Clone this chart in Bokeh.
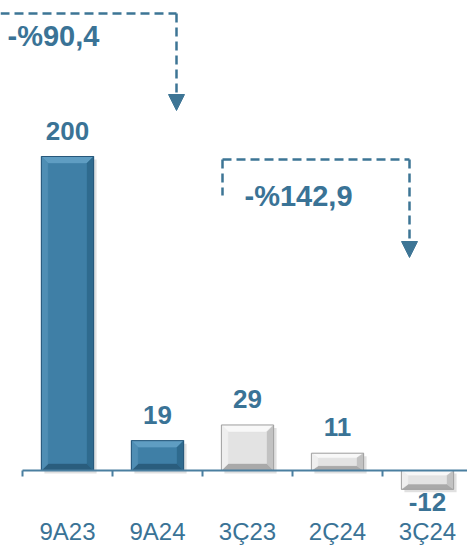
import numpy as np
from bokeh.plotting import figure
from bokeh.models import ColumnDataSource, Arrow, NormalHead
from bokeh.core.properties import value
from bokeh.embed import file_html
from bokeh.resources import INLINE

# ---- data ----
categories = ["9A23", "9A24", "3Ç23", "2Ç24", "3Ç24"]
values = [200, 19, 29, 11, -12]
groups = ["9A", "9A", "3Ç", "3Ç", "3Ç"]
change_labels = ["-%90,4", "-%142,9"]

TEXT = "#3a7396"
FONT = value("Liberation Sans")
PALETTE = {
    "9A": dict(face="#3f7fa6", top="#5f9dc2", left="#4f8eb4", right="#2f6a8e", bottom="#2a5d7d", line="#27577a"),
    "3Ç": dict(face="#e3e3e3", top="#f8f8f8", left="#efefef", right="#c2c2c2", bottom="#a9a9a9", line="#a0a0a0"),
}

# scale: 90 px per category, 1.57 px per unit
PXX, PXY = 90.0, 1.57
p = figure(width=467, height=549, output_backend="svg", toolbar_location=None,
           x_range=(-67 / PXX, 400 / PXX), y_range=(-79 / PXY, 470 / PXY),
           min_border=0)
p.axis.visible = False
p.grid.visible = False
p.outline_line_color = None
p.background_fill_color = "white"

xc = np.arange(len(categories), dtype=float)
v = np.array(values, dtype=float)
hw = 0.29
bx = 7 / PXX

xs_all, ys_all, cols = [], [], []
shadow_xs, shadow_ys = [], []
for c, val, g in zip(xc, v, groups):
    y0, y1 = min(0, val), max(0, val)
    by = min(7 / PXY, abs(val) * 0.28)
    pal = PALETTE[g]
    L, R = c - hw, c + hw
    sx, sy = 3 / PXX, 3 / PXY
    shadow_xs.append([L + sx, R + sx, R + sx, L + sx])
    shadow_ys.append([y0 - sy, y0 - sy, y1 - sy, y1 - sy])
    polys = [
        ([L, R, R, L], [y0, y0, y1, y1], pal["face"]),
        ([L, R, R - bx, L + bx], [y1, y1, y1 - by, y1 - by], pal["top"]),
        ([L, R, R - bx, L + bx], [y0, y0, y0 + by, y0 + by], pal["bottom"]),
        ([L, L + bx, L + bx, L], [y0, y0 + by, y1 - by, y1], pal["left"]),
        ([R, R - bx, R - bx, R], [y0, y0 + by, y1 - by, y1], pal["right"]),
        ([L + bx, R - bx, R - bx, L + bx], [y0 + by, y0 + by, y1 - by, y1 - by], pal["face"]),
    ]
    for px_, py_, col in polys:
        xs_all.append(px_)
        ys_all.append(py_)
        cols.append(col)

p.patches(xs=shadow_xs, ys=shadow_ys, fill_color="#000000", fill_alpha=0.12, line_color=None)
p.patches(xs=xs_all, ys=ys_all, fill_color=cols, line_color=cols, line_width=0.5)
# outline
p.patches(xs=[x[0:4] for x in xs_all[0::6]], ys=[y[0:4] for y in ys_all[0::6]],
          fill_color=None, line_color=[PALETTE[g]["line"] for g in groups], line_width=1)

# axis line at zero and boundary ticks
p.segment(x0=[xc[0] - 0.5], y0=[0], x1=[xc[-1] + 0.5], y1=[0], line_color="#4a7fa0", line_width=2)
b = xc - 0.5
p.segment(x0=b, y0=np.zeros_like(b), x1=b, y1=np.full_like(b, -6 / PXY), line_color="#4a7fa0", line_width=2)

# value labels
pos = v >= 0
src_pos = ColumnDataSource(dict(x=xc[pos], y=v[pos], t=[str(int(a)) for a in v[pos]]))
src_neg = ColumnDataSource(dict(x=xc[~pos], y=v[~pos], t=[str(int(a)) for a in v[~pos]]))
p.text(x="x", y="y", text="t", source=src_pos, text_font=FONT, text_font_size="26px",
       text_font_style="bold", text_color=TEXT, text_align="center", text_baseline="middle", y_offset=-26)
p.text(x="x", y="y", text="t", source=src_neg, text_font=FONT, text_font_size="26px",
       text_font_style="bold", text_color=TEXT, text_align="center", text_baseline="middle", y_offset=13)

# category labels
p.text(x=xc, y=np.zeros_like(xc), text=categories, text_font=FONT, text_font_size="24px",
       text_color=TEXT, text_align="center", text_baseline="middle", y_offset=61)

# change arrows
def X(px):
    return (px - 67) / PXX

def Y(py):
    return (470 - py) / PXY

DASH = "9 5"
AC = "#3d7595"
# arrow 1
p.segment(x0=[X(0)], y0=[Y(13)], x1=[X(176)], y1=[Y(13)], line_color=AC, line_width=2.5, line_dash=DASH)
p.add_layout(Arrow(x_start=X(176), y_start=Y(13), x_end=X(176), y_end=Y(110), line_color=AC,
                   line_width=2.5, line_dash=DASH,
                   end=NormalHead(size=16, fill_color=AC, line_color=AC)))
p.text(x=[X(7)], y=[Y(35)], text=[change_labels[0]], text_font=FONT, text_font_size="29px",
       text_font_style="bold", text_color=TEXT, text_align="left", text_baseline="middle")
# arrow 2
p.segment(x0=[X(222), X(222)], y0=[Y(159), Y(159)], x1=[X(409), X(222)], y1=[Y(159), Y(195)],
          line_color=AC, line_width=2.5, line_dash=DASH)
p.add_layout(Arrow(x_start=X(409), y_start=Y(159), x_end=X(409), y_end=Y(257), line_color=AC,
                   line_width=2.5, line_dash=DASH,
                   end=NormalHead(size=16, fill_color=AC, line_color=AC)))
p.text(x=[X(298)], y=[Y(195)], text=[change_labels[1]], text_font=FONT, text_font_size="29px",
       text_font_style="bold", text_color=TEXT, text_align="center", text_baseline="middle")

open("out.html", "w").write(file_html(p, INLINE))
